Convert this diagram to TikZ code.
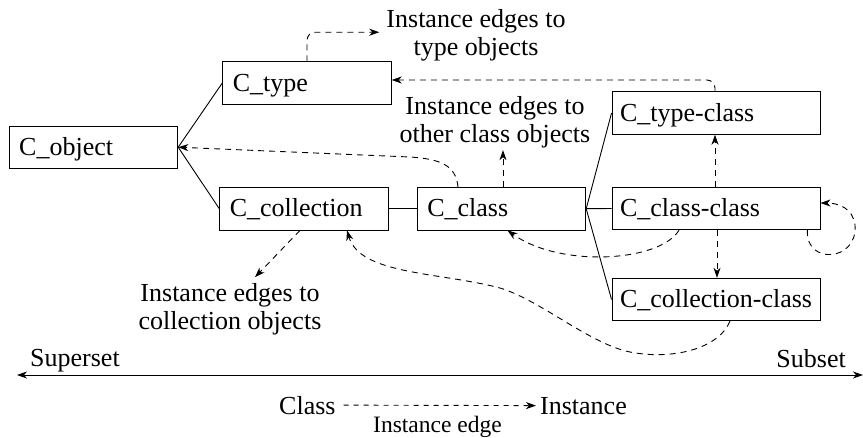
\documentclass[tikz,border=0pt]{standalone}
\usepackage{fontspec}
\setmainfont{Liberation Serif}
\usetikzlibrary{arrows.meta,calc}
\begin{document}
\begin{tikzpicture}[x=1pt,y=-1pt,
  every node/.style={font=\fontsize{26}{28}\selectfont},
  box/.style={draw, line width=0.9pt, inner ysep=0pt, align=left, text height=18pt, text depth=2pt, minimum height=42.5pt},
  lbox/.style={box, inner xsep=10pt, text width=148.5pt},
  rbox/.style={box, inner xsep=8pt, text width=192pt},
  lbl/.style={align=center, inner sep=2pt},
  link/.style={line width=0.9pt},
  tipA/.tip={Stealth[length=10pt,width=7pt,inset=3pt]},
  inst/.style={line width=0.9pt, dash pattern=on 6pt off 5pt, -tipA},
]
\useasboundingbox (0,0) rectangle (863,437);

% boxes
\node[lbox] (cobj) at (93.5,147.2) {C\_object};
\node[lbox] (ctype) at (307,83) {C\_type};
\node[lbox] (ccoll) at (304,208.7) {C\_collection};
\node[lbox] (cclass) at (501.5,208.7) {C\_class};
\node[rbox] (ctc) at (716,113) {C\_type-class};
\node[rbox] (ccl) at (716,208.5) {C\_class-class};
\node[rbox] (cccl) at (716,299.5) {\mbox{C\_collection-class}};

% labels
\node[lbl, anchor=north] (l1) at (476,7.2) {Instance edges to\\type objects};
\node[lbl, anchor=north] (l2) at (495,94.2) {Instance edges to\\other class objects};
\node[lbl, anchor=north] (l3) at (230,281.2) {Instance edges to\\collection objects};

% solid links
\draw[link] (cobj.east) -- (ctype.west);
\draw[link] (cobj.east) -- (ccoll.west);
\draw[link] (ccoll.east) -- (cclass.west);
\draw[link] (cclass.east) -- (ctc.west);
\draw[link] (cclass.east) -- (ccl.west);
\draw[link] (cclass.east) -- (cccl.west);

% instance edges
\draw[inst, rounded corners=8pt] (ctype.north) |- ([xshift=-5pt,yshift=3pt]l1.west);
\draw[inst, rounded corners=8pt] ([xshift=-1pt]ctc.north) |- ([yshift=3pt]ctype.east);
\draw[inst] ([xshift=-43.5pt]cclass.north) .. controls (456,165) and (440,159) .. (410,157) -- (cobj.east);
\draw[inst] ([xshift=1.5pt]cclass.north) -- ([xshift=1.5pt]cclass.north |- l2.south);
\draw[inst] ([xshift=-1pt]ccl.north) -- ([xshift=-1pt]ctc.south);
\draw[inst] ([xshift=1pt]ccl.south) -- ([xshift=1pt]cccl.north);
\draw[inst] ([xshift=-37pt]ccl.south) .. controls (660,262) and (560,268) .. ([xshift=6pt]cclass.south);
\draw[inst] ([xshift=-13pt]ccl.south east) .. controls (805,265) and (858,262) .. (855,225) .. controls (853,208) and (838,203) .. ([yshift=5.5pt]ccl.east);
\draw[inst] ([xshift=14pt]cccl.south) .. controls (718,350) and (670,360) .. (630,352) .. controls (590,344) and (540,300) .. (500,288) .. controls (440,272) and (360,275) .. ([xshift=43pt]ccoll.south);
\draw[inst] ([xshift=-4pt]ccoll.south) -- ([xshift=25pt,yshift=4pt]l3.north);

% superset / subset axis
\coordinate (sl) at (17,375);
\coordinate (sr) at (863,375);
\draw[link, tipA-tipA] (sl) -- (sr);
\node[anchor=base west, inner sep=0pt] (sup) at (30,366) {Superset};
\node[anchor=base east, inner sep=0pt] (sub) at (846,367) {Subset};

% legend
\node[anchor=base west, inner sep=0pt] (cls) at (279,414) {Class};
\node[anchor=base west, inner sep=0pt] (ins) at (540,414) {Instance};
\draw[inst, dash pattern=on 5pt off 5pt] ([xshift=8pt]cls.east) -- ([xshift=-4pt]ins.west);
\node[anchor=base, inner sep=0pt, font=\fontsize{23.5}{26}\selectfont] (ie) at (437.5,432) {Instance edge};
\end{tikzpicture}
\end{document}
